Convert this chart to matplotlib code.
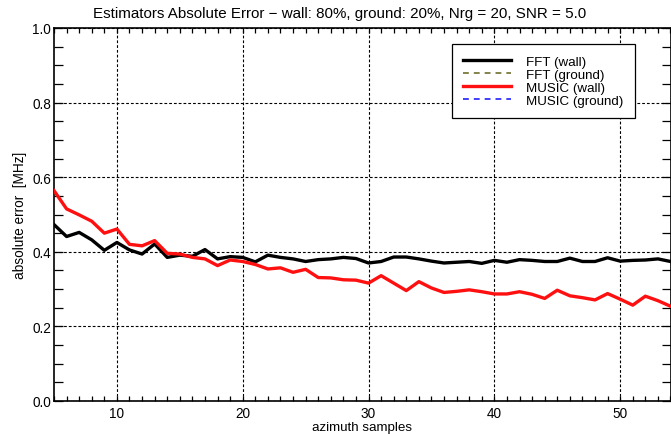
import matplotlib
matplotlib.use("Agg")
import matplotlib.pyplot as plt
from matplotlib.ticker import MultipleLocator
import numpy as np

plt.rcParams['font.family'] = ['Liberation Sans', 'DejaVu Sans']

# Azimuth sample index
samples = list(range(5, 55))

# Absolute error [MHz] per estimator
fft_wall = [0.473, 0.441, 0.452, 0.432, 0.404, 0.425, 0.405, 0.394, 0.421, 0.385,
            0.391, 0.388, 0.406, 0.381, 0.387, 0.385, 0.373, 0.391, 0.385, 0.381,
            0.374, 0.379, 0.381, 0.385, 0.382, 0.370, 0.374, 0.386, 0.386, 0.381,
            0.375, 0.370, 0.372, 0.374, 0.369, 0.377, 0.372, 0.379, 0.377, 0.374,
            0.374, 0.383, 0.374, 0.374, 0.384, 0.375, 0.377, 0.378, 0.381, 0.374]
music_wall = [0.564, 0.515, 0.499, 0.482, 0.450, 0.461, 0.420, 0.416, 0.430, 0.396,
              0.394, 0.385, 0.381, 0.363, 0.378, 0.374, 0.366, 0.354, 0.357, 0.345,
              0.353, 0.331, 0.330, 0.325, 0.324, 0.316, 0.336, 0.316, 0.296, 0.320,
              0.303, 0.291, 0.294, 0.298, 0.293, 0.287, 0.287, 0.293, 0.286, 0.275,
              0.297, 0.282, 0.277, 0.271, 0.288, 0.273, 0.257, 0.281, 0.269, 0.254]
fft_ground = []
music_ground = []

title = "Estimators Absolute Error \u2212 wall: 80%, ground: 20%, Nrg = 20, SNR = 5.0"
x_ticks = [10, 20, 30, 40, 50]
y_ticks = [0.0, 0.2, 0.4, 0.6, 0.8, 1.0]

fig = plt.figure(figsize=(6.71, 4.35), dpi=100)
ax = fig.add_axes([54 / 671, 33 / 435, 616.5 / 671, 373 / 435])

ax.plot(samples, fft_wall, color='black', lw=2.4, label='FFT (wall)', zorder=3)
ax.plot(samples[:len(fft_ground)], fft_ground, color='#6e6e2e', lw=1.2,
        ls=(0, (3.5, 3)), label='FFT (ground)')
ax.plot(samples, music_wall, color='#ff1010', lw=2.4, label='MUSIC (wall)', zorder=3)
ax.plot(samples[:len(music_ground)], music_ground, color='#1f1fff', lw=1.2,
        ls=(0, (3.5, 3)), label='MUSIC (ground)')

ax.set_xlim(5, 54)
ax.set_ylim(0.0, 1.0)
ax.set_xticks(x_ticks)
ax.set_yticks(y_ticks)
ax.set_yticklabels([f"{v:.1f}" for v in y_ticks])
ax.xaxis.set_minor_locator(MultipleLocator(1))
ax.yaxis.set_minor_locator(MultipleLocator(0.05))

ax.tick_params(axis='x', which='both', direction='in', top=True, bottom=True,
               length=3.5, width=0.9, labelsize=9.8, pad=3.8)
ax.tick_params(axis='y', which='both', direction='in', left=True, right=True,
               length=6.5, width=0.9, labelsize=9.8, pad=2)

ax.grid(True, which='major', color='black', lw=0.8, ls=(0, (2.5, 1.8)))
for s in ax.spines.values():
    s.set_linewidth(1.2)

ax.set_xlabel('azimuth samples', fontsize=9.6, labelpad=0.3)
ax.set_ylabel('absolute error  [MHz]', fontsize=9.8, labelpad=4)

fig.text(340 / 671, 1 - 14 / 435, title, ha='center', va='center', fontsize=10.9)

leg = ax.legend(loc='upper right', bbox_to_anchor=(0.942, 0.957), fontsize=9.6,
                frameon=True, fancybox=False, framealpha=1, edgecolor='black',
                handlelength=3.6, handletextpad=1.1, labelspacing=0.05,
                borderpad=0.85, borderaxespad=0)
leg.get_frame().set_linewidth(0.9)

fig.savefig('out.png', dpi=100)
